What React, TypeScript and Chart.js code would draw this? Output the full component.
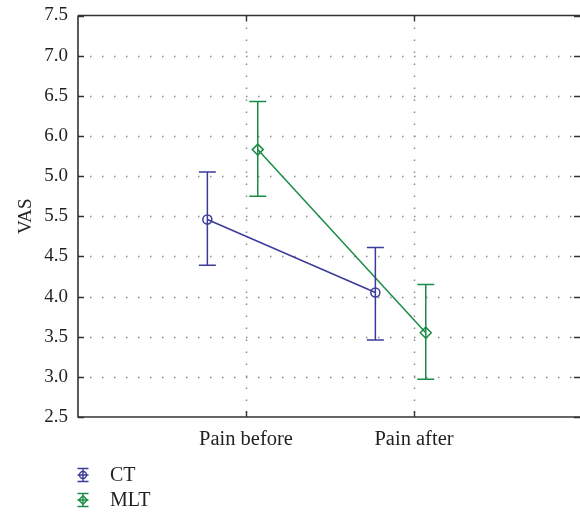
import React, { useEffect, useRef } from "react";
import { Chart, registerables } from "chart.js";

Chart.register(...registerables);

const categories = ["Pain before", "Pain after"];
const seriesNames = ["CT", "MLT"];
const ctMean = [4.96, 4.05];
const ctUpper = [5.55, 4.61];
const ctLower = [4.39, 3.46];
const mltMean = [5.83, 3.55];
const mltUpper = [6.43, 4.15];
const mltLower = [5.25, 2.97];
const seriesOffsets = [-0.23, 0.07];
const seriesColors = ["#3b3b9a", "#1b8c45"];
const seriesMarkers = ["circle", "rectRot"];
// tick labels exactly as printed in the reference (bottom to top)
const yTickLabels = ["2.5", "3.0", "3.5", "4.0", "4.5", "5.5", "5.0", "6.0", "6.5", "7.0", "7.5"];
const yTitle = "VAS";

const FONT = "'Liberation Serif', 'Times New Roman', serif";
const TEXT = "#231f20";

function drawMarker(ctx: CanvasRenderingContext2D, style: string, x: number, y: number, r: number) {
  ctx.beginPath();
  if (style === "circle") {
    ctx.arc(x, y, r, 0, Math.PI * 2);
  } else {
    ctx.moveTo(x, y - r);
    ctx.lineTo(x + r, y);
    ctx.lineTo(x, y + r);
    ctx.lineTo(x - r, y);
    ctx.closePath();
  }
  ctx.stroke();
}

const decorPlugin = {
  id: "decor",
  beforeDatasetsDraw(chart: any) {
    const { ctx, chartArea } = chart;
    const xs = chart.scales.x;
    const ys = chart.scales.y;
    const { left, right, top, bottom } = chartArea;
    ctx.save();
    // dotted grid
    ctx.strokeStyle = "#8c8c8c";
    ctx.lineWidth = 1.5;
    ctx.setLineDash([1.5, 10.5]);
    ys.ticks.forEach((t: any) => {
      if (t.value <= ys.min + 1e-6 || t.value >= ys.max - 1e-6) return;
      const y = Math.round(ys.getPixelForValue(t.value)) + 0.5;
      ctx.beginPath();
      ctx.moveTo(left, y);
      ctx.lineTo(right, y);
      ctx.stroke();
    });
    categories.forEach((_, i) => {
      const x = Math.round(xs.getPixelForValue(i + 1)) + 0.5;
      ctx.beginPath();
      ctx.moveTo(x, top);
      ctx.lineTo(x, bottom);
      ctx.stroke();
    });
    ctx.setLineDash([]);
    // frame
    ctx.strokeStyle = "#333";
    ctx.lineWidth = 1.6;
    ctx.beginPath();
    ctx.moveTo(left, top);
    ctx.lineTo(left, bottom);
    ctx.lineTo(right + 2, bottom);
    ctx.moveTo(left, top);
    ctx.lineTo(right + 2, top);
    ctx.stroke();
    // inward ticks
    const tl = 6;
    ctx.lineWidth = 1.4;
    ys.ticks.forEach((t: any) => {
      const y = Math.round(ys.getPixelForValue(t.value)) + 0.5;
      ctx.beginPath();
      ctx.moveTo(left, y);
      ctx.lineTo(left + tl, y);
      ctx.moveTo(right, y);
      ctx.lineTo(right - tl, y);
      ctx.stroke();
    });
    categories.forEach((_, i) => {
      const x = Math.round(xs.getPixelForValue(i + 1)) + 0.5;
      ctx.beginPath();
      ctx.moveTo(x, bottom);
      ctx.lineTo(x, bottom - tl);
      ctx.moveTo(x, top);
      ctx.lineTo(x, top + tl);
      ctx.stroke();
    });
    ctx.restore();
  },
  afterDatasetsDraw(chart: any) {
    const { ctx } = chart;
    const xs = chart.scales.x;
    const ys = chart.scales.y;
    ctx.save();
    chart.data.datasets.forEach((ds: any) => {
      ctx.strokeStyle = ds.borderColor;
      ctx.lineWidth = 1.5;
      ds.data.forEach((p: any, i: number) => {
        const x = xs.getPixelForValue(p.x);
        const yu = ys.getPixelForValue(ds.upper[i]);
        const yl = ys.getPixelForValue(ds.lower[i]);
        const cap = 8.5;
        ctx.beginPath();
        ctx.moveTo(x, yu);
        ctx.lineTo(x, yl);
        ctx.moveTo(x - cap, yu);
        ctx.lineTo(x + cap, yu);
        ctx.moveTo(x - cap, yl);
        ctx.lineTo(x + cap, yl);
        ctx.stroke();
      });
    });
    ctx.restore();
  },
  afterDraw(chart: any) {
    const { ctx } = chart;
    ctx.save();
    chart.data.datasets.forEach((ds: any, i: number) => {
      const cx = 83;
      const cy = 475 + i * 25;
      ctx.strokeStyle = ds.borderColor;
      ctx.lineWidth = 1.4;
      ctx.beginPath();
      ctx.moveTo(cx, cy - 6.5);
      ctx.lineTo(cx, cy + 6.5);
      ctx.moveTo(cx - 5.5, cy - 6.5);
      ctx.lineTo(cx + 5.5, cy - 6.5);
      ctx.moveTo(cx - 5.5, cy + 6.5);
      ctx.lineTo(cx + 5.5, cy + 6.5);
      ctx.moveTo(cx - 5.5, cy);
      ctx.lineTo(cx + 5.5, cy);
      ctx.stroke();
      drawMarker(ctx, ds.pointStyle, cx, cy, ds.pointStyle === "circle" ? 3.5 : 4.2);
      ctx.fillStyle = TEXT;
      ctx.font = `20px ${FONT}`;
      ctx.textAlign = "left";
      ctx.textBaseline = "middle";
      ctx.fillText(ds.label, 110, cy + 1);
    });
    ctx.restore();
  },
};

export default function App() {
  const ref = useRef<HTMLCanvasElement>(null);
  useEffect(() => {
    if (!ref.current) return;
    const means = [ctMean, mltMean];
    const uppers = [ctUpper, mltUpper];
    const lowers = [ctLower, mltLower];
    const chart = new Chart(ref.current, {
      type: "line",
      data: {
        datasets: seriesNames.map((name, s) => ({
          label: name,
          data: categories.map((_, i) => ({ x: i + 1 + seriesOffsets[s], y: means[s][i] })),
          upper: uppers[s],
          lower: lowers[s],
          borderColor: seriesColors[s],
          borderWidth: 1.5,
          pointStyle: seriesMarkers[s],
          pointRadius: s === 0 ? 4.5 : 5.5,
          pointBorderWidth: 1.5,
          pointBackgroundColor: "rgba(0,0,0,0)",
          pointBorderColor: seriesColors[s],
          fill: false,
          tension: 0,
        })) as any,
      },
      options: {
        animation: false,
        responsive: false,
        devicePixelRatio: 1,
        layout: { autoPadding: false, padding: { top: 15.5, right: 0, left: 0, bottom: 0 } },
        plugins: { legend: { display: false }, tooltip: { enabled: false } },
        scales: {
          x: {
            type: "linear",
            min: 0,
            max: 2.988,
            grid: { display: false, drawTicks: false },
            border: { display: false },
            ticks: {
              stepSize: 1,
              autoSkip: false,
              maxRotation: 0,
              padding: 10,
              color: TEXT,
              font: { family: FONT, size: 20.5 },
              callback: (v: any) => (Number.isInteger(v) && categories[v - 1]) || "",
            },
            afterFit: (scale: any) => {
              scale.height = 97;
              scale.paddingLeft = 0;
              scale.paddingRight = 0;
            },
          },
          y: {
            type: "linear",
            min: 2.5,
            max: 7.5,
            grid: { display: false, drawTicks: false },
            border: { display: false },
            ticks: {
              stepSize: 0.5,
              autoSkip: false,
              padding: 10,
              color: TEXT,
              font: { family: FONT, size: 19 },
              callback: (_v: any, i: number) => yTickLabels[i],
            },
            title: {
              display: true,
              text: yTitle,
              color: TEXT,
              font: { family: FONT, size: 19 },
              padding: { top: 15, bottom: 0 },
            },
            afterFit: (scale: any) => {
              scale.width = 78;
              scale.paddingTop = 0;
              scale.paddingBottom = 0;
            },
          },
        },
      },
      plugins: [decorPlugin],
    });
    return () => chart.destroy();
  }, []);
  return (
    <div style={{ position: "absolute", left: 0, top: 0, width: 580, height: 514, background: "#fff" }}>
      <canvas ref={ref} width={580} height={514} style={{ width: 580, height: 514, display: "block" }} />
    </div>
  );
}
